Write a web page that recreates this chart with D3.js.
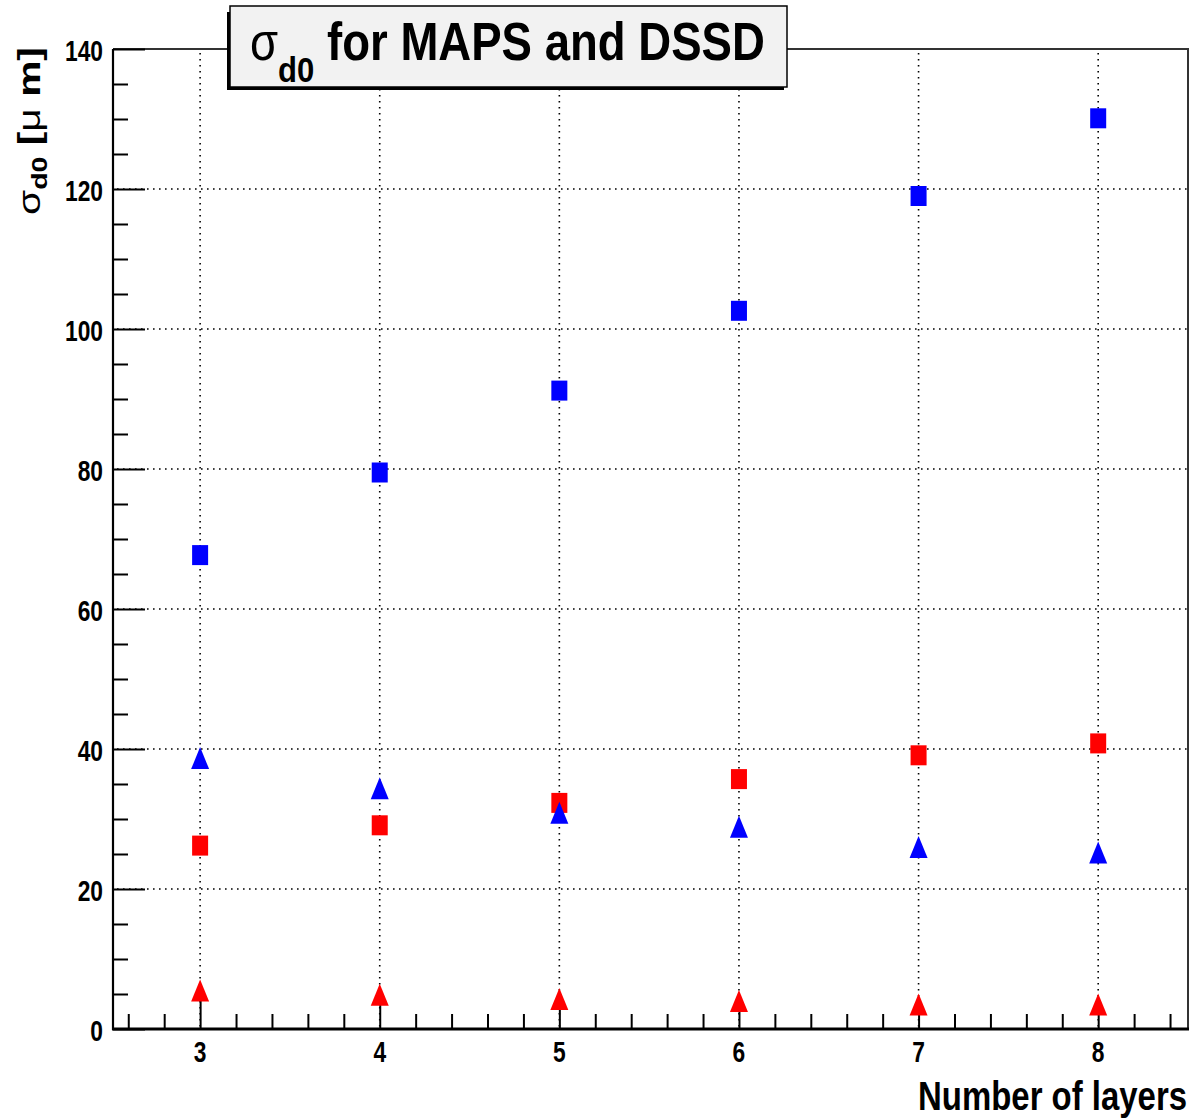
<!DOCTYPE html>
<html>
<head>
<meta charset="utf-8">
<script src="https://cdn.jsdelivr.net/npm/d3@7"></script>
<style>
  html, body { margin: 0; padding: 0; background: #fff; }
  svg { display: block; }
  text { font-family: "Liberation Sans", Arial, Helvetica, sans-serif; }
</style>
</head>
<body>
<svg id="chart" width="1191" height="1118"></svg>
<script>
// Resolution on d0 versus number of detector layers
const layers = [3, 4, 5, 6, 7, 8];
const blueSquares   = [67.7, 79.5, 91.2, 102.6, 119.0, 130.1];
const redSquares    = [26.2, 29.1, 32.3, 35.7, 39.1, 40.8];
const blueTriangles = [38.7, 34.4, 30.9, 28.9, 26.0, 25.2];
const redTriangles  = [5.5, 4.9, 4.3, 4.0, 3.5, 3.5];

const xTickValues = [3, 4, 5, 6, 7, 8];
const xMinorValues = [2.6, 2.8, 3.2, 3.4, 3.6, 3.8, 4.2, 4.4, 4.6, 4.8, 5.2, 5.4, 5.6, 5.8,
                      6.2, 6.4, 6.6, 6.8, 7.2, 7.4, 7.6, 7.8, 8.2, 8.4];
const yTickValues = [0, 20, 40, 60, 80, 100, 120, 140];
const yMinorValues = d3.range(5, 140, 5).filter(v => v % 20 !== 0);
const yGridValues = [20, 40, 60, 80, 100, 120];

const svg = d3.select("#chart");
const frameLeft = 113, frameRight = 1188, frameTop = 49, frameBottom = 1029;
const xMin = 2.515, xMax = 8.5;

const x = d3.scaleLinear().domain([xMin, xMax]).range([frameLeft, frameRight]);
const y = d3.scaleLinear().domain([0, 140]).range([frameBottom, frameTop]);

// dotted grid
const grid = svg.append("g")
  .attr("stroke", "#000").attr("stroke-width", 1.6)
  .attr("stroke-dasharray", "1.6 4.4").attr("fill", "none");
grid.selectAll("line.v").data(xTickValues).join("line")
  .attr("x1", d => x(d)).attr("x2", d => x(d))
  .attr("y1", y(140) + 4).attr("y2", y(0));
grid.selectAll("line.h").data(yGridValues).join("line")
  .attr("x1", x(xMin) + 4).attr("x2", x(xMax))
  .attr("y1", d => y(d)).attr("y2", d => y(d));

// frame top and right edges
svg.append("path")
  .attr("d", `M${x(xMin)},${y(140)}H${x(xMax)}V${y(0)}`)
  .attr("fill", "none").attr("stroke", "#333").attr("stroke-width", 2);

// y axis ticks (pointing into the frame)
function styleAxis(g, w) {
  g.select(".domain").remove();
  g.selectAll(".tick line").attr("stroke", "#000").attr("stroke-width", w);
}
svg.append("g").attr("transform", `translate(${frameLeft},0)`)
  .call(d3.axisRight(y).tickValues(yTickValues).tickSize(32).tickFormat(""))
  .call(g => styleAxis(g, 2));
svg.append("g").attr("transform", `translate(${frameLeft},0)`)
  .call(d3.axisRight(y).tickValues(yMinorValues).tickSize(15).tickFormat(""))
  .call(g => styleAxis(g, 2));

// x axis ticks (pointing up)
svg.append("g").attr("transform", `translate(0,${frameBottom})`)
  .call(d3.axisTop(x).tickValues(xTickValues).tickSize(30).tickFormat(""))
  .call(g => styleAxis(g, 2));
svg.append("g").attr("transform", `translate(0,${frameBottom})`)
  .call(d3.axisTop(x).tickValues(xMinorValues).tickSize(15).tickFormat(""))
  .call(g => styleAxis(g, 2));

// axis lines
svg.append("line").attr("x1", frameLeft).attr("x2", frameLeft).attr("y1", y(140)).attr("y2", frameBottom + 1)
  .attr("stroke", "#000").attr("stroke-width", 2.2);
svg.append("line").attr("x1", frameLeft - 1).attr("x2", frameRight + 1).attr("y1", frameBottom).attr("y2", frameBottom)
  .attr("stroke", "#000").attr("stroke-width", 3.2);

// tick labels
const labelFont = 24, labelSx = 0.95, labelSy = 1.25;
svg.append("g").selectAll("text").data(xTickValues).join("text")
  .attr("transform", d => `translate(${x(d)},1062) scale(${labelSx},${labelSy})`)
  .attr("text-anchor", "middle").attr("font-size", labelFont).attr("font-weight", "bold")
  .text(d => d);
svg.append("g").selectAll("text").data(yTickValues).join("text")
  .attr("transform", d => `translate(103,${y(d) + 12}) scale(${labelSx},${labelSy})`)
  .attr("text-anchor", "end").attr("font-size", labelFont).attr("font-weight", "bold")
  .text(d => d);

// markers
const sqW = 16, sqH = 20, triW = 18, triH = 22;
function squares(vals, color) {
  svg.append("g").selectAll("rect").data(layers).join("rect")
    .attr("x", d => x(d) - sqW / 2)
    .attr("y", (d, i) => y(vals[i]) - sqH / 2)
    .attr("width", sqW).attr("height", sqH)
    .attr("fill", color);
}
function triangles(vals, color) {
  svg.append("g").selectAll("path").data(layers).join("path")
    .attr("d", (d, i) => {
      const cx = x(d), cy = y(vals[i]);
      return `M${cx},${cy - triH / 2}L${cx + triW / 2},${cy + triH / 2}L${cx - triW / 2},${cy + triH / 2}Z`;
    })
    .attr("fill", color);
}
squares(blueSquares, "#0000ff");
squares(redSquares, "#ff0000");
triangles(blueTriangles, "#0000ff");
triangles(redTriangles, "#ff0000");

// x axis title, stretched to its slot
const xt = svg.append("text")
  .attr("text-anchor", "end").attr("font-size", 32).attr("font-weight", "bold")
  .text("Number of layers");
{
  const w = xt.node().getComputedTextLength();
  xt.attr("transform", `translate(1187,1110) scale(${269 / w},1.3)`);
}

// y axis title, rotated
const yt = svg.append("text").attr("font-size", 30).attr("font-weight", "bold");
yt.append("tspan").attr("font-weight", "normal").text("σ");
yt.append("tspan").attr("font-size", 21).attr("dy", 7).text("d0");
yt.append("tspan").attr("dy", -7).text(" [");
yt.append("tspan").attr("font-weight", "normal").text("μ");
yt.append("tspan").text(" m]");
{
  const w = yt.node().getBBox().width;
  yt.attr("transform", `translate(40,215) rotate(-90) scale(${168 / w},1.05)`);
}

// title box with shadow
svg.append("rect").attr("x", 227).attr("y", 12).attr("width", 557).attr("height", 78).attr("fill", "#000");
svg.append("rect").attr("x", 230).attr("y", 6).attr("width", 557).attr("height", 81)
  .attr("fill", "#f2f2f2").attr("stroke", "#000").attr("stroke-width", 1.5);
const tt = svg.append("text").attr("font-size", 44).attr("font-weight", "bold");
tt.append("tspan").attr("font-weight", "normal").text("σ");
tt.append("tspan").attr("font-size", 30).attr("dy", 18).text("d0");
tt.append("tspan").attr("dy", -18).text(" for MAPS and DSSD");
{
  const b = tt.node().getBBox();
  tt.attr("transform", `translate(${250 - b.x * (515 / b.width)},60) scale(${515 / b.width},1.2)`);
}
</script>
</body>
</html>
